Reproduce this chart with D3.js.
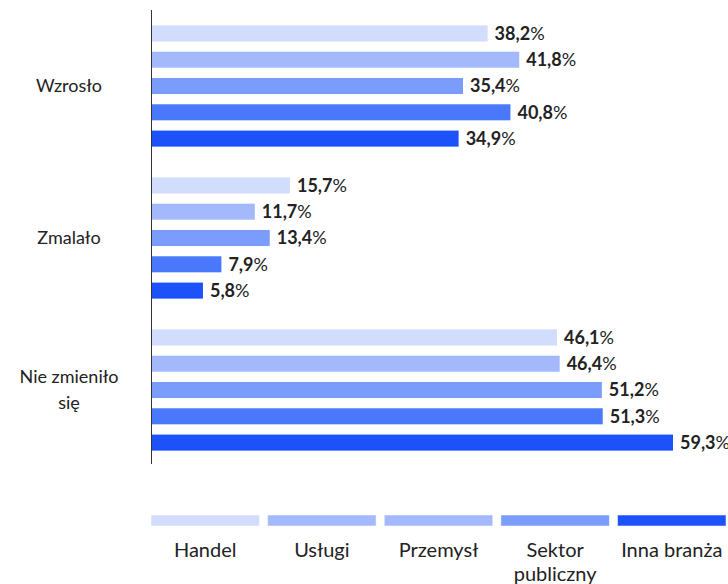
<!DOCTYPE html>
<html>
<head>
<meta charset="utf-8">
<script src="https://cdn.jsdelivr.net/npm/d3@7"></script>
<style>
  html, body { margin: 0; padding: 0; background: #fff; }
  svg { display: block; font-family: Lato, "Noto Sans", sans-serif; }
</style>
</head>
<body>
<svg id="chart" width="728" height="584"></svg>
<script>
// Categories (answers) and sectors
const categories = ["Wzrosło", "Zmalało", "Nie zmieniło się"];
const categoryLines = [["Wzrosło"], ["Zmalało"], ["Nie zmieniło", "się"]];
const series = ["Handel", "Usługi", "Przemysł", "Sektor publiczny", "Inna branża"];
const seriesLines = [["Handel"], ["Usługi"], ["Przemysł"], ["Sektor", "publiczny"], ["Inna branża"]];

// Percent values per sector, in category order
const handel   = [38.2, 15.7, 46.1];
const uslugi   = [41.8, 11.7, 46.4];
const przemysl = [35.4, 13.4, 51.2];
const sektor   = [40.8, 7.9, 51.3];
const inna     = [34.9, 5.8, 59.3];
const values = [handel, uslugi, przemysl, sektor, inna];

const barColors = ["#d2dcfc", "#a3b9fb", "#7a9cfa", "#4a78fb", "#1d52fb"];
const legendColors = ["#d2dcfc", "#a3b9fb", "#a3b9fb", "#7a9cfa", "#1d52fb"];

const svg = d3.select("#chart");

const x = d3.scaleLinear().domain([0, 59.3]).range([152, 673]);
const y0 = d3.scaleBand().domain(categories).range([10, 466]);
const y1 = d3.scaleBand().domain(series).range([0, y0.bandwidth()])
  .paddingInner(0.39).paddingOuter(0.585);

const rows = [];
categories.forEach((c, ci) => {
  series.forEach((s, si) => rows.push({ c, s, si, v: values[si][ci] }));
});

const fmt = v => d3.format(".1f")(v).replace(".", ",");

// bars
svg.append("g").selectAll("rect").data(rows).join("rect")
  .attr("x", x(0))
  .attr("y", d => y0(d.c) + y1(d.s))
  .attr("width", d => x(d.v) - x(0))
  .attr("height", y1.bandwidth())
  .attr("fill", d => barColors[d.si]);

// value labels: bold number, regular percent sign
const lbl = svg.append("g").selectAll("text").data(rows).join("text")
  .attr("x", d => x(d.v) + 7)
  .attr("y", d => y0(d.c) + y1(d.s) + y1.bandwidth() / 2)
  .attr("dy", "0.36em")
  .attr("font-size", 18)
  .attr("fill", "#222");
lbl.append("tspan").attr("font-weight", 700).text(d => fmt(d.v));
lbl.append("tspan").attr("font-weight", 400).text("%");

// axis line
svg.append("line")
  .attr("x1", 151.5).attr("x2", 151.5)
  .attr("y1", 10).attr("y2", 464)
  .attr("stroke", "#333").attr("stroke-width", 1);

// category labels
categories.forEach((c, ci) => {
  const lines = categoryLines[ci];
  const cy = y0(c) + y0.bandwidth() / 2;
  const t = svg.append("text")
    .attr("text-anchor", "middle")
    .attr("font-size", 18)
    .attr("fill", "#222");
  lines.forEach((ln, li) => {
    t.append("tspan")
      .attr("x", 69)
      .attr("y", cy + (li - (lines.length - 1) / 2) * 26)
      .attr("dy", "0.36em")
      .text(ln);
  });
});

// legend
const lx = d3.scaleBand().domain(series).range([151, 726]).paddingInner(0.07);
const lg = svg.append("g");
series.forEach((s, si) => {
  lg.append("rect")
    .attr("x", lx(s)).attr("y", 515)
    .attr("width", lx.bandwidth()).attr("height", 11)
    .attr("fill", legendColors[si])
    .attr("stroke", "#fff").attr("stroke-opacity", 0.5);
  const t = lg.append("text")
    .attr("text-anchor", "middle")
    .attr("font-size", 20)
    .attr("fill", "#222");
  seriesLines[si].forEach((ln, li) => {
    t.append("tspan")
      .attr("x", lx(s) + lx.bandwidth() / 2)
      .attr("y", 550 + li * 24)
      .attr("dy", "0.36em")
      .text(ln);
  });
});
</script>
</body>
</html>
